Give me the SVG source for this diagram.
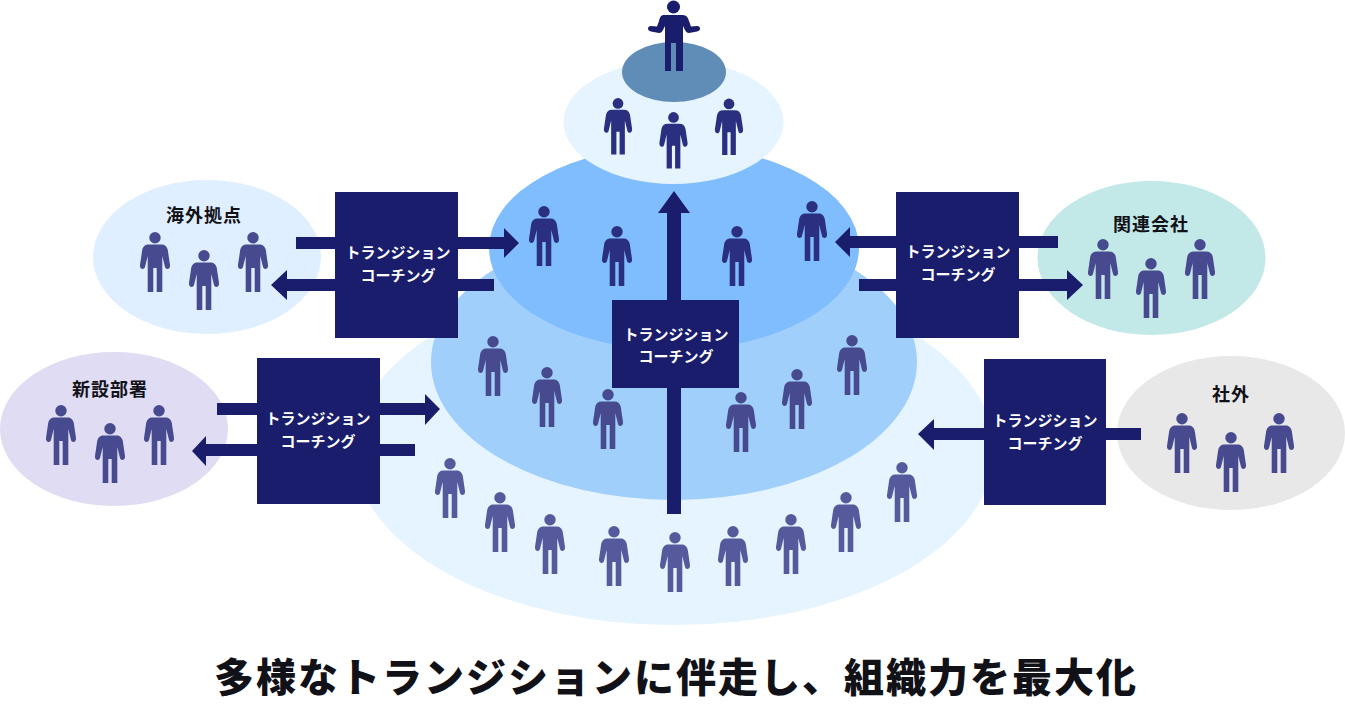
<svg xmlns="http://www.w3.org/2000/svg" width="1345" height="709" viewBox="0 0 1345 709">
<style>
text{font-family:"Noto Sans CJK JP","Noto Sans",sans-serif;font-weight:700;text-anchor:middle}
.b{fill:#1a1d6b}
.w{fill:#fff;font-size:15px}
.l{fill:#111118;font-size:18px;letter-spacing:1px}
.a{fill:#1a1d6b}
.p1{fill:#2b2f7f}.p2{fill:#474a8e}.p3{fill:#565a9c}
</style>
<defs>
<g id="person">
<circle cx="0" cy="5.800" r="5.700"/>
<path d="M-6,12.500H6C10,12.500 12,14.500 12.800,18L15,33C15.500,37.500 10.800,38 10,35L7.300,24V60H1.700V36H-1.700V60H-7.300V24L-10,35C-10.800,38 -15.500,37.500 -15,33L-12.800,18C-12,14.500 -10,12.500 -6,12.500Z"/>
</g>
</defs>
<g id="layers">
<ellipse cx="674" cy="450" rx="320" ry="175" fill="#e6f4ff"/>
<ellipse cx="674" cy="362" rx="243" ry="138" fill="#9fcffa"/>
<ellipse cx="674" cy="248" rx="185" ry="102" fill="#80bdff"/>
<ellipse cx="673.500" cy="122" rx="110" ry="62" fill="#e6f4ff"/>
<ellipse cx="674" cy="72" rx="52" ry="30" fill="#5f8db8"/>
</g>
<g id="satellites">
<ellipse cx="207" cy="257" rx="114" ry="77" fill="#e0efff"/>
<ellipse cx="1151.500" cy="258" rx="114" ry="77" fill="#c3e8e8"/>
<ellipse cx="114" cy="429" rx="114" ry="77" fill="#dfdcf3"/>
<ellipse cx="1231" cy="433" rx="114" ry="77" fill="#e8e8e8"/>
</g>
<g id="leader" class="b">
<circle cx="673.500" cy="7" r="6.500"/>
<path d="M664,15H683C686,15 688,17 689,21L691,26.500L697,26C701,26 701,31 697,31.500L689,33C687,33 686,32 685,30L683,26V71H676V43H671V71H665V26L663,30C662,32 661,33 659,33L651,31.500C647,31 647,26 651,26L657,26.500L659,21C660,17 661,15 664,15Z"/>
</g>
<g id="people-top" class="p1">
<use href="#person" transform="translate(618,98) scale(.94)"/>
<use href="#person" transform="translate(673.500,112) scale(.94)"/>
<use href="#person" transform="translate(729,98.500) scale(.94)"/>
</g>
<g id="people-2" class="p1">
<use href="#person" x="544" y="206"/>
<use href="#person" x="617" y="226"/>
<use href="#person" x="737" y="226"/>
<use href="#person" x="812" y="201"/>
</g>
<g id="people-3" class="p2">
<use href="#person" x="493" y="336"/>
<use href="#person" x="547" y="367"/>
<use href="#person" x="608" y="389"/>
<use href="#person" x="741" y="392"/>
<use href="#person" x="797" y="369"/>
<use href="#person" x="852" y="335"/>
</g>
<g id="people-4" class="p3">
<use href="#person" x="450" y="458"/>
<use href="#person" x="500" y="492"/>
<use href="#person" x="550" y="514"/>
<use href="#person" x="614" y="526"/>
<use href="#person" x="675" y="532"/>
<use href="#person" x="733" y="526"/>
<use href="#person" x="791" y="514"/>
<use href="#person" x="846" y="492"/>
<use href="#person" x="902" y="462"/>
</g>
<g id="people-sat" class="p2">
<use href="#person" x="155" y="232"/><use href="#person" x="204" y="250"/><use href="#person" x="253" y="232"/>
<use href="#person" x="1103" y="239"/><use href="#person" x="1151" y="258"/><use href="#person" x="1200" y="239"/>
<use href="#person" x="61" y="405"/><use href="#person" x="110" y="423"/><use href="#person" x="159" y="405"/>
<use href="#person" x="1182" y="413"/><use href="#person" x="1231" y="432"/><use href="#person" x="1279" y="413"/>
</g>
<g id="connectors" class="a">
<path d="M667,514V213H658L674,191L690,213H681V514Z"/>
<path d="M296,237H504V228L519,243L504,258V249H296Z"/>
<path d="M494,279V291H287V300L271,285L287,270V279Z"/>
<path d="M1058,236V248H850V257L835,242L850,227V236Z"/>
<path d="M859,279H1067V270L1083,285L1067,300V291H859Z"/>
<path d="M217,403H425V394L440,409L425,425V415H217Z"/>
<path d="M415,444V456H206V466L192,451L206,436V444Z"/>
<path d="M1141,428V440H934V450L918,434L934,419V428Z"/>
</g>
<g id="coach-1"><rect class="b" x="335" y="192" width="123" height="146"/><text class="w" x="398" y="258">トランジション</text><text class="w" x="398" y="281">コーチング</text></g>
<g id="coach-2"><rect class="b" x="896" y="192" width="123" height="146"/><text class="w" x="958" y="257">トランジション</text><text class="w" x="958" y="280">コーチング</text></g>
<g id="coach-3"><rect class="b" x="257" y="358" width="123" height="146"/><text class="w" x="318" y="424">トランジション</text><text class="w" x="318" y="447">コーチング</text></g>
<g id="coach-4"><rect class="b" x="984" y="359" width="122" height="146"/><text class="w" x="1045" y="426">トランジション</text><text class="w" x="1045" y="449">コーチング</text></g>
<g id="coach-5"><rect class="b" x="612" y="300" width="127" height="88"/><text class="w" x="676" y="340">トランジション</text><text class="w" x="676" y="362">コーチング</text></g>
<g id="labels">
<text class="l" x="204" y="222">海外拠点</text>
<text class="l" x="1151" y="231">関連会社</text>
<text class="l" x="110" y="396">新設部署</text>
<text class="l" x="1231" y="401">社外</text>
</g>
<text id="title" x="676" y="692" style="font-size:40px;font-weight:900;letter-spacing:2px;fill:#111118">多様なトランジションに伴走し、組織力を最大化</text>
</svg>
